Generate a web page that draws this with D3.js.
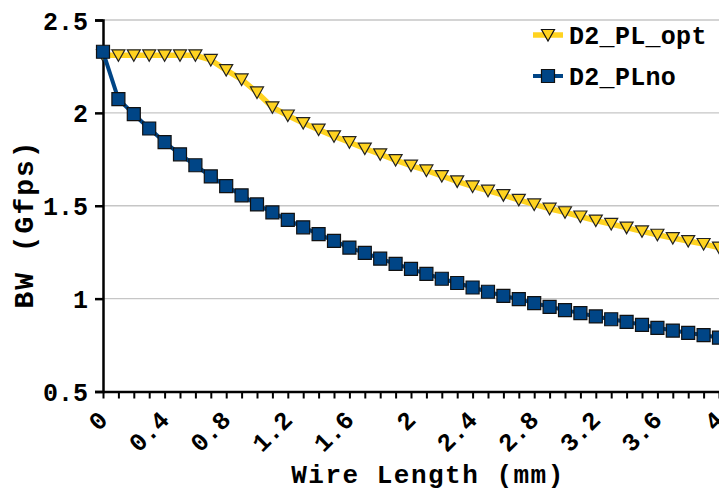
<!DOCTYPE html>
<html><head><meta charset="utf-8">
<script src="https://cdn.jsdelivr.net/npm/d3@7"></script>
<style>
html,body{margin:0;padding:0;background:#fff;}
svg{display:block;}
text{font-family:"Liberation Mono","Courier New",monospace;font-weight:bold;fill:#000;}
</style></head>
<body>
<script>
const wireLength = [0,0.1,0.2,0.3,0.4,0.5,0.6,0.7,0.8,0.9,1.0,1.1,1.2,1.3,1.4,1.5,1.6,1.7,1.8,1.9,2.0,2.1,2.2,2.3,2.4,2.5,2.6,2.7,2.8,2.9,3.0,3.1,3.2,3.3,3.4,3.5,3.6,3.7,3.8,3.9,4.0];
const plOpt = [2.31,2.31,2.31,2.31,2.31,2.31,2.31,2.285,2.23,2.18,2.11,2.03,1.986,1.945,1.91,1.874,1.842,1.808,1.777,1.746,1.716,1.69,1.66,1.631,1.604,1.581,1.557,1.532,1.507,1.484,1.465,1.442,1.42,1.402,1.382,1.362,1.344,1.326,1.31,1.294,1.275];
const plNo = [2.329,2.074,1.993,1.916,1.843,1.777,1.718,1.658,1.606,1.556,1.507,1.464,1.424,1.384,1.347,1.311,1.275,1.246,1.215,1.187,1.16,1.133,1.107,1.084,1.06,1.037,1.015,0.997,0.976,0.956,0.938,0.922,0.904,0.889,0.875,0.859,0.843,0.828,0.816,0.803,0.79];
const seriesNames = ["D2_PL_opt","D2_PLno"];
const xTickLabels = ["0","0.4","0.8","1.2","1.6","2","2.4","2.8","3.2","3.6","4"];
const xMinorTicks = wireLength;
const yTickLabels = ["0.5","1","1.5","2","2.5"];
const xTitle = "Wire Length (mm)";
const yTitle = "BW (Gfps)";

const W = 719, H = 491;
const svg = d3.select("body").append("svg").attr("width", W).attr("height", H);
const x = d3.scaleLinear().domain([0,4]).range([103,719]);
const y = d3.scaleLinear().domain([0.5,2.5]).range([391.5,20]);

const yellow = "#ffd320", blue = "#004586";

// gridlines
svg.append("g").selectAll("line").data(yTickLabels.map(Number).filter(v=>v>0.5)).join("line")
  .attr("x1", x(0)).attr("x2", W).attr("y1", d=>y(d)).attr("y2", d=>y(d))
  .attr("stroke", "#c6c6c6").attr("stroke-width", 1.3);

// y axis
const yAxis = d3.axisLeft(y).tickValues(yTickLabels.map(Number)).tickFormat((d,i)=>yTickLabels[i]).tickSize(8).tickPadding(7);
const gy = svg.append("g").attr("transform", `translate(${x(0)},0)`).call(yAxis);
gy.select(".domain").attr("stroke", "#000").attr("stroke-width", 2.5);
gy.selectAll(".tick line").attr("stroke", "#000").attr("stroke-width", 2.5);
gy.selectAll(".tick text").style("font-size", "25px").attr("dy", "0.36em");

// x axis
const xAxis = d3.axisBottom(x).tickValues(xMinorTicks).tickFormat("").tickSize(7).tickSizeOuter(0);
const gx = svg.append("g").attr("transform", `translate(0,${y(0.5)})`).call(xAxis);
gx.select(".domain").attr("stroke", "#000").attr("stroke-width", 2.5);
gx.selectAll(".tick line").attr("stroke", "#000").attr("stroke-width", 2);

svg.append("g").selectAll("text").data(xTickLabels).join("text")
  .attr("transform", d => `translate(${x(+d)+6},${y(0.5)+30}) rotate(-45)`)
  .attr("text-anchor", "end").style("font-size", "25px").text(d=>d);

// titles
svg.append("text").attr("x", 428).attr("y", 483).attr("text-anchor", "middle")
  .style("font-size", "26px").style("letter-spacing", "1.5px").text(xTitle);
svg.append("text").attr("transform", "translate(33,224) rotate(-90)").attr("text-anchor", "middle")
  .style("font-size", "28px").style("letter-spacing", "2px").text(yTitle);

const tri = "M-6.5,-5.5L6.5,-5.5L0,6Z";
const sq = "M-6.5,-6.5H6.5V6.5H-6.5Z";

const line = d3.line().x((d,i)=>x(wireLength[i])).y(d=>y(d));

// opt series
svg.append("path").attr("d", line(plOpt)).attr("fill","none").attr("stroke", yellow).attr("stroke-width", 5.5).attr("stroke-linejoin","round");
svg.append("g").selectAll("path").data(plOpt).join("path")
  .attr("transform",(d,i)=>`translate(${x(wireLength[i])},${y(d)})`)
  .attr("d", tri).attr("fill", yellow).attr("stroke", "#222").attr("stroke-width", 1.2);

// no series
svg.append("path").attr("d", line(plNo)).attr("fill","none").attr("stroke", blue).attr("stroke-width", 4).attr("stroke-linejoin","round");
svg.append("g").selectAll("path").data(plNo).join("path")
  .attr("transform",(d,i)=>`translate(${x(wireLength[i])},${y(d)})`)
  .attr("d", sq).attr("fill", blue).attr("stroke", "#111").attr("stroke-width", 1.2);

// legend
const legend = [{name: seriesNames[0], color: yellow, sym: tri, w:5.5, ly:35},{name: seriesNames[1], color: blue, sym: sq, w:4, ly:76}];
const lg = svg.append("g");
legend.forEach(l=>{
  lg.append("line").attr("x1",533).attr("x2",563).attr("y1",l.ly).attr("y2",l.ly).attr("stroke",l.color).attr("stroke-width",l.w);
  lg.append("path").attr("transform",`translate(548,${l.ly})`).attr("d",l.sym).attr("fill",l.color).attr("stroke","#111").attr("stroke-width",1.2);
  lg.append("text").attr("x",569).attr("y",l.ly+9).style("font-size","25px").style("letter-spacing","0.3px").text(l.name);
});
</script>
</body></html>
